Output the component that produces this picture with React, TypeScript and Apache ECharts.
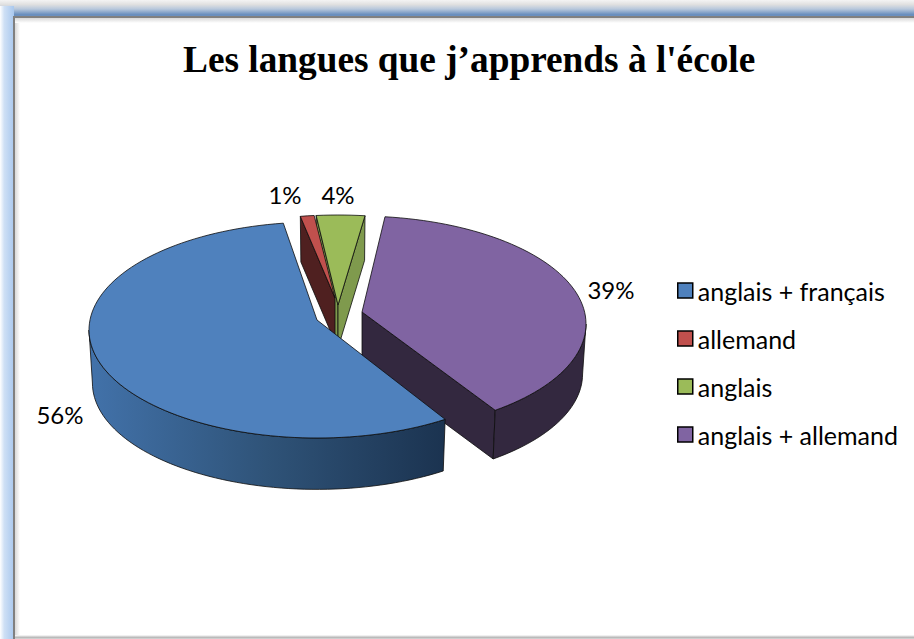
import React, { useEffect, useRef } from "react";
import * as echarts from "echarts";

const titleText = "Les langues que j’apprends à l'école";
const categories = ["anglais + français", "allemand", "anglais", "anglais + allemand"];
const values = [56, 1, 4, 39];
const topColors = ["#4F81BD", "#C0504D", "#9BBB59", "#8064A2"];
const drawOrder = [2, 1, 3, 0];

// Layout of the exploded 3D pie (not data)
const firstSliceAngle = 149;
const rx = 228;
const ry = 108;
const bottomScale = 0.985;
const centres = [[317, 330], [336, 323], [338, 323], [358, 324]];
const apexes = [[317, 320], [335, 298], [338, 305], [362, 312]];
const depths = [53, 44, 43, 50];
const startNudge = [-3.2, 0.4, 0.3, -1.8];
const endNudge = [0.9, 0.3, -1.8, -6];
const labelPos = [[60, 414], [285, 194], [338, 194], [611, 289]];
const cutColors = ["#1C3450", "#4F2020", "#7F9A4D", "#33283F"];
const wallColors: any[] = [
  new echarts.graphic.LinearGradient(0, 0, 1, 0, [
    { offset: 0, color: "#4272AA" },
    { offset: 0.5, color: "#2F5378" },
    { offset: 1, color: "#1B3350" },
  ]),
  "#4F2020",
  "#7F9A4D",
  "#33283F",
];

function sliceAngles(i: number): [number, number] {
  const total = values.reduce((a, b) => a + b, 0);
  let before = 0;
  for (let k = 0; k < i; k++) before += values[k];
  const a = firstSliceAngle + (before / total) * 360;
  const b = a + (values[i] / total) * 360;
  const turn = a + startNudge[i] >= 360 ? 360 : 0;
  return [a + startNudge[i] - turn, b + endNudge[i] - turn];
}

function rimPoint(i: number, deg: number, low = false): number[] {
  const t = (deg * Math.PI) / 180;
  const k = low ? bottomScale : 1;
  return [
    centres[i][0] + Math.sin(t) * rx * k,
    centres[i][1] - Math.cos(t) * ry * k + (low ? depths[i] : 0),
  ];
}

function arc(i: number, a: number, b: number, low = false): number[][] {
  const n = Math.max(2, Math.ceil(Math.abs(b - a) / 2));
  const pts: number[][] = [];
  for (let s = 0; s <= n; s++) pts.push(rimPoint(i, a + ((b - a) * s) / n, low));
  return pts;
}

function renderSlice(i: number) {
  return (_params: any, api: any) => {
    const [a, b] = sliceAngles(i);
    const apex = apexes[i];
    const apexLow = [apex[0], apex[1] + depths[i]];
    const line = { stroke: "#0c0c0c", lineWidth: 0.8, lineJoin: "round" };
    const children: any[] = [];
    const cut = (deg: number) => ({
      type: "polygon",
      shape: { points: [apex, rimPoint(i, deg), rimPoint(i, deg, true), apexLow] },
      style: { fill: cutColors[i], ...line },
    });
    if (Math.sin((a * Math.PI) / 180) < 0) children.push(cut(a));
    if (Math.sin((b * Math.PI) / 180) > 0) children.push(cut(b));
    const wa = Math.max(a, 90);
    const wb = Math.min(b, 270);
    if (wa < wb) {
      children.push({
        type: "polygon",
        shape: { points: [...arc(i, wa, wb), ...arc(i, wb, wa, true)] },
        style: { fill: wallColors[i], ...line },
      });
    }
    children.push({
      type: "polygon",
      shape: { points: [apex, ...arc(i, a, b)] },
      style: { fill: topColors[i], ...line },
    });
    children.push({
      type: "text",
      style: {
        text: api.value(0) + "%",
        x: labelPos[i][0],
        y: labelPos[i][1],
        textAlign: "center",
        textVerticalAlign: "middle",
        fontFamily: "Lato",
        fontSize: 24,
        fill: "#000",
      },
    });
    return { type: "group", children };
  };
}

const frame = [
  { type: "rect", shape: { x: 0, y: 0, width: 914, height: 18 }, style: {
    fill: new echarts.graphic.LinearGradient(0, 0, 0, 1, [
      { offset: 0, color: "#F4F4F4" },
      { offset: 0.25, color: "#E0E0E0" },
      { offset: 0.5, color: "#B8C8DC" },
      { offset: 0.8, color: "#6A8FBE" },
      { offset: 1, color: "#6A8FBE" },
    ]) } },
  { type: "rect", shape: { x: 0, y: 6, width: 14, height: 633 }, style: {
    fill: new echarts.graphic.LinearGradient(0, 0, 1, 0, [
      { offset: 0, color: "#FFFFFF" },
      { offset: 0.3, color: "#CFE0F5" },
      { offset: 1, color: "#A9C8EE" },
    ]) } },
  { type: "rect", shape: { x: 13, y: 16, width: 2, height: 623 }, style: { fill: "#808080" } },
  { type: "rect", shape: { x: 13, y: 16, width: 901, height: 2 }, style: { fill: "#808080" } },
  { type: "rect", shape: { x: 15, y: 18, width: 5, height: 621 }, style: {
    fill: new echarts.graphic.LinearGradient(0, 0, 1, 0, [
      { offset: 0, color: "#D8D8D8" },
      { offset: 1, color: "#FFFFFF" },
    ]) } },
  { type: "rect", shape: { x: 15, y: 18, width: 899, height: 5 }, style: {
    fill: new echarts.graphic.LinearGradient(0, 0, 0, 1, [
      { offset: 0, color: "#D8D8D8" },
      { offset: 1, color: "#FFFFFF" },
    ]) } },
  { type: "rect", shape: { x: 15, y: 635, width: 899, height: 4 }, style: {
    fill: new echarts.graphic.LinearGradient(0, 0, 0, 1, [
      { offset: 0, color: "#FFFFFF" },
      { offset: 0.6, color: "#B8B8B8" },
      { offset: 1, color: "#D8D8D8" },
    ]) } },
];

export default function App() {
  const ref = useRef<HTMLDivElement>(null);
  useEffect(() => {
    document.body.style.margin = "0";
    const chart = echarts.init(ref.current!, null, { renderer: "svg" });
    chart.setOption({
      animation: false,
      backgroundColor: "#FFFFFF",
      title: {
        text: titleText,
        left: 183,
        top: 41,
        padding: 0,
        textStyle: { fontFamily: "Liberation Serif", fontWeight: "bold", fontSize: 37.3, color: "#000" },
      },
      legend: {
        data: categories,
        orient: "vertical",
        left: 677,
        top: 278,
        padding: 0,
        itemGap: 23,
        itemWidth: 15,
        itemHeight: 15,
        icon: "rect",
        itemStyle: { borderColor: "#000", borderWidth: 1.5 },
        textStyle: { fontFamily: "Lato", fontSize: 25, lineHeight: 24, color: "#000", padding: 0 },
        selectedMode: false,
      },
      graphic: { elements: frame.map((e) => ({ ...e, silent: true, z: -10 })) },
      series: drawOrder.map((i) => ({
        type: "custom",
        name: categories[i],
        coordinateSystem: "none",
        itemStyle: { color: topColors[i] },
        data: [[values[i]]],
        renderItem: renderSlice(i),
      })),
    });
    return () => chart.dispose();
  }, []);
  return <div ref={ref} style={{ position: "absolute", left: 0, top: 0, width: 914, height: 639 }} />;
}
